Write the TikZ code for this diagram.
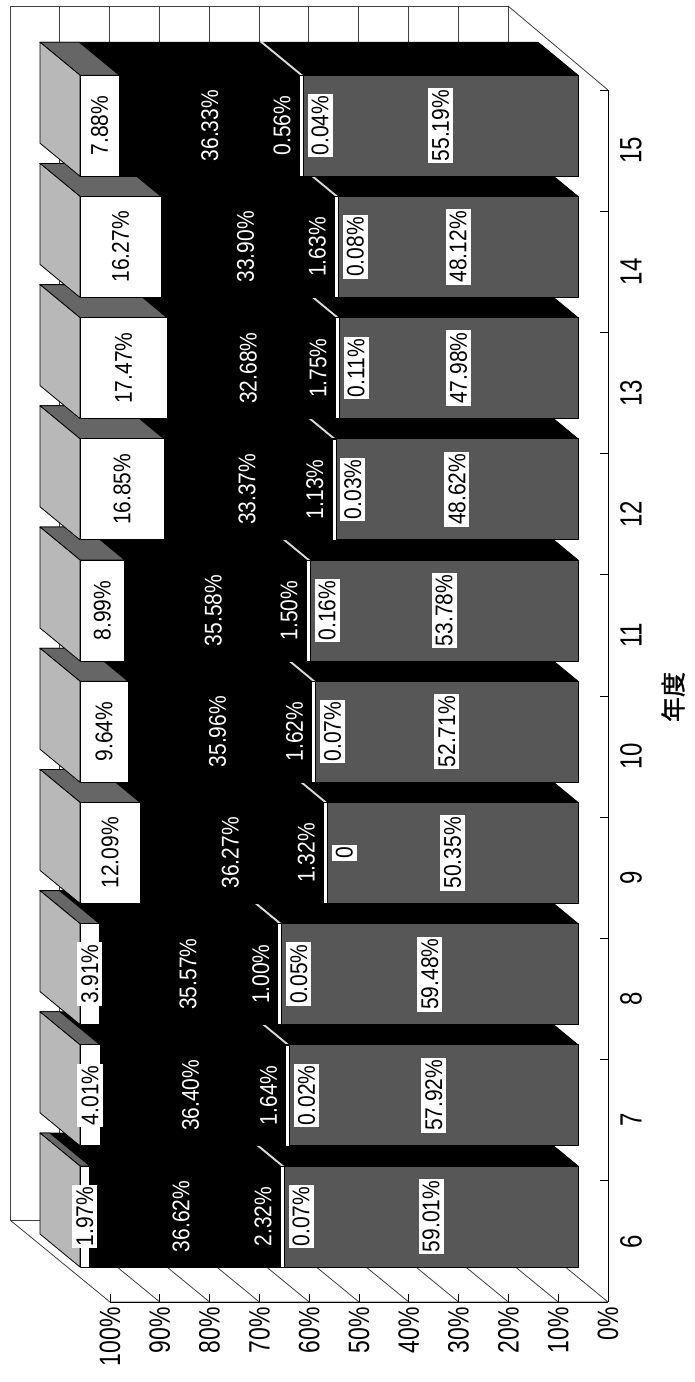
\documentclass[tikz,border=0pt]{standalone}
\usepackage{fontspec}
\setmainfont{Liberation Sans}
\newfontfamily\cjkfont[FakeBold=1.5]{Noto Sans CJK JP}
\usepackage{graphicx}

\newcommand{\tallt}[2][1.15]{\scalebox{1}[#1]{#2}}

\tikzset{
  lbl/.style={rotate=90, font=\fontsize{10.5}{12}\selectfont, inner xsep=1pt, inner ysep=2pt},
  boxlbl/.style={lbl, fill=white},
  invlbl/.style={lbl, text=white},
  axlbl/.style={rotate=90, font=\fontsize{11.5}{13}\selectfont, inner sep=1pt},
  wall/.style={draw=black!75, line width=0.4pt},
}

\begin{document}
\begin{tikzpicture}[x=0.5pt,y=-0.5pt,line join=round]
    \useasboundingbox (0,0) rectangle (695,1382);

    % back wall and floors
    \draw[wall,fill=white] (10,6) rectangle (508,1220);
    \draw[wall] (10,1220) -- (110,1302) -- (608,1302) -- (508,1220);
    \draw[wall] (508,6) -- (608,90);
    \foreach \k in {1,...,9}
      \draw[wall] (10+49.8*\k,6) -- (10+49.8*\k,1220);
    \foreach \k in {1,...,9}
      \draw[wall] (10+49.8*\k,1220) -- (110+49.8*\k,1302);

    % draw bars
    \foreach \cat/\va/\vb/\vbl/\vc/\vd/\ve in {
        6/59.01/0.07/{0.07\%}/2.32/36.62/1.97,
        7/57.92/0.02/{0.02\%}/1.64/36.40/4.01,
        8/59.48/0.05/{0.05\%}/1.00/35.57/3.91,
        9/50.35/0/{0}/1.32/36.27/12.09,
        10/52.71/0.07/{0.07\%}/1.62/35.96/9.64,
        11/53.78/0.16/{0.16\%}/1.50/35.58/8.99,
        12/48.62/0.03/{0.03\%}/1.13/33.37/16.85,
        13/47.98/0.11/{0.11\%}/1.75/32.68/17.47,
        14/48.12/0.08/{0.08\%}/1.63/33.90/16.27,
        15/55.19/0.04/{0.04\%}/0.56/36.33/7.88}{
      \pgfmathsetmacro\yb{1267-121.2*(\cat-6)}
      \pgfmathsetmacro\yt{\yb-101}
      \pgfmathsetmacro\ym{\yb-50.5}
      \pgfmathsetmacro\xa{578-4.98*\va}
      \pgfmathsetmacro\xc{578-4.98*(\va+\vb+\vc)}
      \pgfmathsetmacro\xd{578-4.98*(\va+\vb+\vc+\vd)}
      % side faces
      \filldraw[fill=black] (578,\yt) -- (80,\yt) -- (40,\yt-33) -- (538,\yt-33) -- cycle;
      \filldraw[fill=black!60] (80,\yt) -- (\xd,\yt) -- (\xd-40,\yt-33) -- (40,\yt-33) -- cycle;
      \fill[black!15] (\xa,\yt) -- (\xa-3,\yt) -- (\xa-43,\yt-33) -- (\xa-40,\yt-33) -- cycle;
      % end cap
      \filldraw[fill=black!28] (80,\yt) -- (80,\yb) -- (40,\yb-33) -- (40,\yt-33) -- cycle;
      % front faces
      \filldraw[fill=black!66] (\xa,\yt) rectangle (578,\yb);
      \filldraw[fill=black] (\xd,\yt) rectangle (\xa,\yb);
      \filldraw[fill=white] (80,\yt) rectangle (\xd,\yb);
      \filldraw[fill=white,line width=0.3pt] (\xa-4,\yt) rectangle (\xa,\yb);
      % labels
      \node[boxlbl] (a\cat) at ({(578+\xa)/2},\ym) {\tallt{\va\%}};
      \node[boxlbl] (b\cat) at (\xa+17,\ym) {\tallt{\vbl}};
      \node[invlbl] (c\cat) at (\xa-21,\ym) {\tallt{\vc\%}};
      \node[invlbl] (d\cat) at ({(\xc+\xd)/2},\ym) {\tallt{\vd\%}};
      \node[boxlbl] (e\cat) at ({(\xd+80)/2},\ym) {\tallt{\ve\%}};
    }

    % draw axes
    \draw (110,1302) -- (608,1302);
    \draw (608,90) -- (608,1302);
    \foreach \k in {0,...,10}
      \draw (110+49.8*\k,1302) -- (110+49.8*\k,1294);
    \foreach \k in {0,...,10}
      \draw (608,1302-121.2*\k) -- (600,1302-121.2*\k);

    % axis labels
    \foreach \k in {0,...,10}{
      \pgfmathtruncatemacro\pc{10*\k}
      \node[axlbl,anchor=east] (p\k) at (608-49.8*\k,1305) {\tallt[1.28]{\pc\%}};
    }
    \foreach \n [count=\k from 0] in {6,...,15}
      \node[axlbl,font=\fontsize{12}{14}\selectfont] (cat\n) at (631,{1302-121.2*(\k+0.5)}) {\tallt[1.28]{\n}};
    \node[rotate=90,font=\cjkfont\fontsize{12.5}{14}\selectfont] (year) at (673,697) {年度};

\end{tikzpicture}
\end{document}
